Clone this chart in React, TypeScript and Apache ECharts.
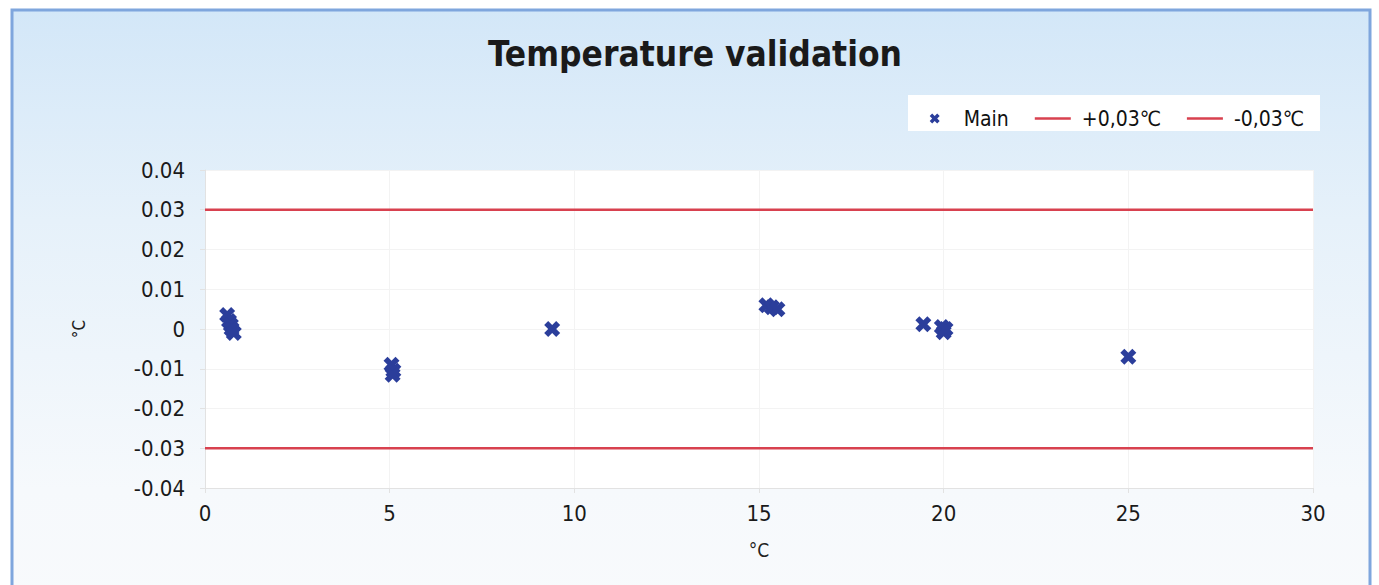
import React, { useEffect, useRef } from "react";
import * as echarts from "echarts";

const mainX = [0.6, 0.65, 0.7, 0.72, 0.78, 5.05, 5.1, 5.08, 9.4, 15.2, 15.35, 15.5, 19.45, 19.95, 20.0, 20.05, 25.0];
const mainY = [0.0035, 0.002, 0.001, 0.0, -0.001, -0.009, -0.0105, -0.0115, 0.0, 0.006, 0.0055, 0.005, 0.0012, 0.0005, -0.0008, 0.0, -0.007];
const xRange = [0, 30];
const upperLimit = 0.03;
const lowerLimit = -0.03;
const seriesNames = ["Main", "+0,03℃", "-0,03℃"];

const xSymbol =
  "path://M3,0 L6,3 L9,0 L12,3 L9,6 L12,9 L9,12 L6,9 L3,12 L0,9 L3,6 L0,3 Z";
const lineIcon = "path://M0,0 L36,0 L36,2.4 L0,2.4 Z";

export default function App() {
  const ref = useRef<HTMLDivElement>(null);
  useEffect(() => {
    const chart = echarts.init(ref.current!, null, { renderer: "svg" });
    const font = "DejaVu Sans Condensed, Liberation Sans, sans-serif";
    chart.setOption({
      animation: false,
      graphic: [
        {
          type: "rect",
          z: -10,
          silent: true,
          shape: { x: 12, y: 10, width: 1358, height: 600 },
          style: {
            fill: new echarts.graphic.LinearGradient(0, 0, 0, 1, [
              { offset: 0, color: "#d3e7f8" },
              { offset: 0.35, color: "#e6f1fa" },
              { offset: 0.8, color: "#f6f9fc" },
              { offset: 1, color: "#f8fafc" },
            ]),
            stroke: "#7fa6dd",
            lineWidth: 3,
          },
        },
        {
          type: "rect",
          z: -5,
          silent: true,
          shape: { x: 908, y: 95, width: 412, height: 36 },
          style: { fill: "#ffffff" },
        },
      ],
      title: {
        text: "Temperature validation",
        left: 690,
        textAlign: "center",
        top: 31,
        textStyle: {
          fontFamily: font,
          fontWeight: "bold",
          fontSize: 35,
          color: "#1a1a1a",
        },
      },
      legend: {
        right: 70,
        top: 103,
        itemGap: 26,
        itemWidth: 36,
        itemHeight: 10,
        textStyle: { fontFamily: font, fontSize: 21, color: "#111", padding: [0, 0, 0, 6] },
        data: [
          { name: seriesNames[0], icon: xSymbol, itemStyle: { color: "#2b3e9b" } },
          { name: seriesNames[1], icon: lineIcon },
          { name: seriesNames[2], icon: lineIcon },
        ],
      },
      grid: {
        left: 205,
        right: 66,
        top: 170,
        bottom: 97,
        show: true,
        backgroundColor: "#ffffff",
        borderWidth: 0,
      },
      xAxis: {
        type: "value",
        min: xRange[0],
        max: xRange[1],
        interval: 5,
        name: "°C",
        nameLocation: "middle",
        nameGap: 52,
        nameTextStyle: { fontFamily: font, fontSize: 19, color: "#222" },
        axisLine: { show: true, onZero: false, lineStyle: { color: "#e2e2e2" } },
        axisTick: { show: true, lineStyle: { color: "#e2e2e2" } },
        axisLabel: { fontFamily: font, fontSize: 22, color: "#1a1a1a", margin: 14 },
        splitLine: { show: true, lineStyle: { color: "#f3f3f3" } },
      },
      yAxis: {
        type: "value",
        min: -0.04,
        max: 0.04,
        interval: 0.01,
        name: "°C",
        nameLocation: "middle",
        nameGap: 118,
        nameRotate: 90,
        nameTextStyle: { fontFamily: font, fontSize: 17, color: "#222" },
        axisLine: { show: true, lineStyle: { color: "#e2e2e2" } },
        axisTick: { show: true, lineStyle: { color: "#e2e2e2" } },
        axisLabel: {
          fontFamily: font,
          fontSize: 22,
          color: "#1a1a1a",
          margin: 20,
          formatter: (v: number) => (Math.abs(v) < 1e-9 ? "0" : v.toFixed(2)),
        },
        splitLine: { show: true, lineStyle: { color: "#f3f3f3" } },
      },
      series: [
        {
          name: seriesNames[0],
          type: "scatter",
          symbol: xSymbol,
          symbolSize: 16,
          itemStyle: { color: "#2b3e9b", opacity: 1 },
          data: mainX.map((x, i) => [x, mainY[i]]),
          z: 5,
        },
        {
          name: seriesNames[1],
          type: "line",
          showSymbol: false,
          symbol: "none",
          lineStyle: { color: "#d8414f", width: 2.5 },
          itemStyle: { color: "#d8414f" },
          data: [
            [xRange[0], upperLimit],
            [xRange[1], upperLimit],
          ],
        },
        {
          name: seriesNames[2],
          type: "line",
          showSymbol: false,
          symbol: "none",
          lineStyle: { color: "#d8414f", width: 2.5 },
          itemStyle: { color: "#d8414f" },
          data: [
            [xRange[0], lowerLimit],
            [xRange[1], lowerLimit],
          ],
        },
      ],
    });
    return () => chart.dispose();
  }, []);
  return (
    <div
      ref={ref}
      style={{ position: "absolute", left: 0, top: 0, width: 1379, height: 585 }}
    />
  );
}
